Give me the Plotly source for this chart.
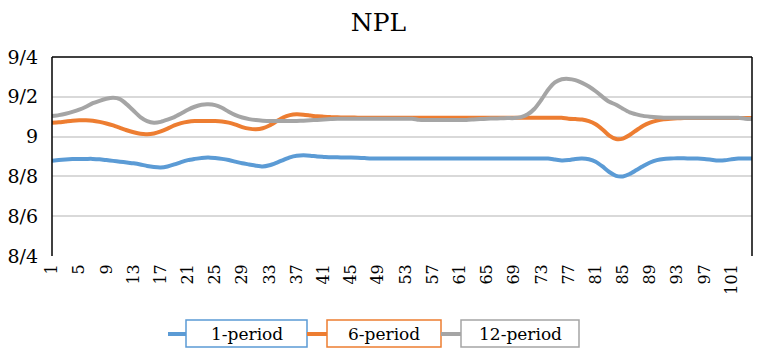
import plotly.graph_objects as go

periods = list(range(1, 105))

one_period = [
    8.878, 8.882, 8.885, 8.887, 8.888, 8.888, 8.888, 8.886,
    8.882, 8.878, 8.874, 8.870, 8.866, 8.860, 8.852, 8.847, 8.845,
    8.850, 8.860, 8.872, 8.882, 8.888, 8.893, 8.895,
    8.892, 8.888, 8.882, 8.874, 8.866, 8.860, 8.854, 8.850,
    8.856, 8.868, 8.882, 8.896, 8.904, 8.906,
    8.904, 8.900, 8.898, 8.896, 8.896, 8.895, 8.895, 8.894, 8.892,
    8.890, 8.890, 8.890, 8.890, 8.890, 8.890, 8.890, 8.890, 8.890,
    8.890, 8.890, 8.890, 8.890, 8.890, 8.890, 8.890, 8.890, 8.890,
    8.890, 8.890, 8.890, 8.890, 8.890, 8.890, 8.890, 8.890, 8.890,
    8.885, 8.880, 8.882, 8.888, 8.890, 8.886,
    8.874, 8.850, 8.822, 8.803, 8.800, 8.812, 8.832, 8.852,
    8.870, 8.882, 8.888, 8.890, 8.891, 8.891,
    8.890, 8.890, 8.888, 8.884, 8.880, 8.881, 8.886, 8.890, 8.890, 8.890,
]

six_period = [
    9.070, 9.072, 9.076, 9.080, 9.082, 9.082, 9.080, 9.074,
    9.066, 9.056, 9.044, 9.032, 9.022, 9.014, 9.012, 9.016,
    9.026, 9.040, 9.056, 9.068, 9.075, 9.078, 9.078, 9.078, 9.078,
    9.076, 9.070, 9.060, 9.048, 9.040, 9.037, 9.042, 9.056,
    9.076, 9.096, 9.108, 9.112, 9.110, 9.106, 9.102,
    9.100, 9.098, 9.097, 9.096, 9.096, 9.095, 9.095,
    9.095, 9.095, 9.095, 9.095, 9.095, 9.095, 9.095, 9.095, 9.095, 9.095,
    9.095, 9.095, 9.095, 9.095, 9.095, 9.095, 9.095, 9.095, 9.095, 9.095,
    9.095, 9.095, 9.095, 9.095, 9.095, 9.095, 9.095, 9.095, 9.095,
    9.090, 9.088, 9.086, 9.078,
    9.062, 9.036, 9.005, 8.988, 8.990, 9.008, 9.032, 9.055,
    9.070, 9.080, 9.087, 9.090, 9.092, 9.093,
    9.093, 9.093, 9.093, 9.093, 9.093, 9.093, 9.093, 9.093, 9.093, 9.093,
]

twelve_period = [
    9.103, 9.108, 9.115, 9.124, 9.135, 9.150, 9.168,
    9.180, 9.190, 9.195, 9.188, 9.162,
    9.130, 9.098, 9.078, 9.070, 9.074,
    9.085, 9.098, 9.116, 9.135, 9.150, 9.160, 9.162,
    9.158, 9.145, 9.125, 9.108, 9.096, 9.088, 9.083,
    9.080, 9.078, 9.078, 9.078, 9.078, 9.079, 9.080,
    9.082, 9.084, 9.086, 9.088, 9.090, 9.090, 9.090, 9.090, 9.090,
    9.090, 9.090, 9.090, 9.090, 9.090, 9.090, 9.090,
    9.084, 9.084, 9.084, 9.084, 9.084, 9.084, 9.084, 9.084,
    9.086, 9.088, 9.090, 9.091, 9.092, 9.093, 9.093,
    9.098, 9.112, 9.140, 9.185, 9.235, 9.272, 9.288,
    9.290, 9.284, 9.270, 9.252, 9.228, 9.200, 9.175,
    9.160, 9.140, 9.122, 9.112, 9.104, 9.100, 9.097,
    9.095, 9.095, 9.095, 9.095, 9.095, 9.095, 9.095, 9.095, 9.095, 9.095,
    9.095, 9.095, 9.090, 9.088,
]

series_names = ["1-period", "6-period", "12-period"]
series_values = [one_period, six_period, twelve_period]
colors = ["#5b9bd5", "#ed7d31", "#a5a5a5"]

x_tick_vals = list(range(1, 105, 4))
y_tick_vals = [8.4, 8.6, 8.8, 9.0, 9.2, 9.4]
y_tick_text = ["8/4", "8/6", "8/8", "9", "9/2", "9/4"]

FONT = "DejaVu Serif"
W, H = 757, 350
ML, MR, MT, MB = 52, 5, 57, 94
PW, PH = W - ML - MR, H - MT - MB

fig = go.Figure()
for name, vals, c in zip(series_names, series_values, colors):
    fig.add_trace(go.Scatter(x=periods, y=vals, mode="lines", name=name,
                             line=dict(color=c, width=4, shape="spline", smoothing=0.6),
                             showlegend=False))

def px_x(p):
    return (p - ML) / PW

def px_y(p):
    return (H - MB - p) / PH

shapes = []
# plot border (left, top, right) in black
for x0, y0, x1, y1 in [(0, 0, 0, 1), (0, 1, 1, 1), (1, 0, 1, 1)]:
    shapes.append(dict(type="line", xref="paper", yref="paper", x0=x0, y0=y0, x1=x1, y1=y1,
                       line=dict(color="black", width=1.5)))

# custom legend with boxed labels
legend_layout = [  # (segment start, box start, box end) in pixels
    (168, 186, 307),
    (307, 327, 441),
    (441, 461, 579),
]
ly_top, ly_bot, ly_mid = 320, 347, 334
annotations = []
for (s0, b0, b1), name, c in zip(legend_layout, series_names, colors):
    shapes.append(dict(type="line", xref="paper", yref="paper", x0=px_x(s0), x1=px_x(b0),
                       y0=px_y(ly_mid), y1=px_y(ly_mid), line=dict(color=c, width=4)))
    shapes.append(dict(type="rect", xref="paper", yref="paper", x0=px_x(b0), x1=px_x(b1),
                       y0=px_y(ly_bot), y1=px_y(ly_top), line=dict(color=c, width=1.5),
                       fillcolor="white"))
    annotations.append(dict(xref="paper", yref="paper", x=px_x((b0 + b1) / 2), y=px_y(ly_mid),
                            text=name, showarrow=False, xanchor="center", yanchor="middle",
                            font=dict(family=FONT, size=17, color="black")))

fig.update_layout(
    width=W, height=H,
    margin=dict(l=ML, r=MR, t=MT, b=MB),
    paper_bgcolor="white", plot_bgcolor="white",
    title=dict(text="NPL", x=0.5, xanchor="center", y=1 - 22 / H, yanchor="middle",
               font=dict(family=FONT, size=25, color="black")),
    xaxis=dict(range=[1, 104], tickmode="array", tickvals=x_tick_vals, tickangle=-90,
               showgrid=False, zeroline=False, showline=False, ticks="",
               ticklabelstandoff=4,
               tickfont=dict(family=FONT, size=16, color="black")),
    yaxis=dict(range=[8.4, 9.4], tickmode="array", tickvals=y_tick_vals, ticktext=y_tick_text,
               showgrid=True, gridcolor="#d9d9d9", gridwidth=1.5, zeroline=False, showline=False,
               ticks="", ticklabelstandoff=13,
               tickfont=dict(family=FONT, size=19, color="black")),
    shapes=shapes,
    annotations=annotations,
)

fig.write_html("out.html")
